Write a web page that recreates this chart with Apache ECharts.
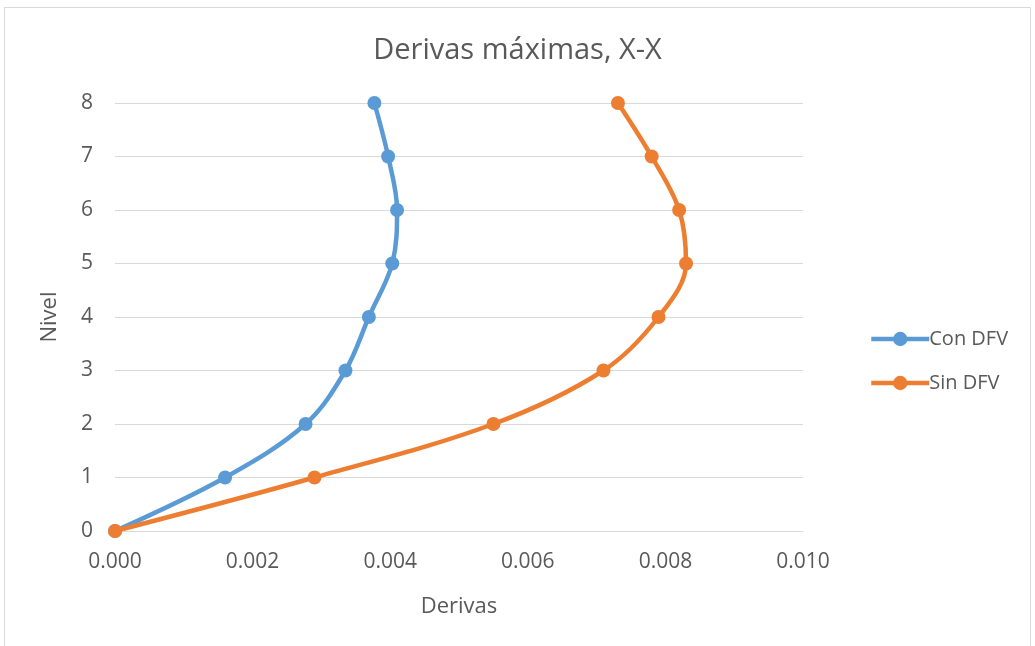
<!DOCTYPE html>
<html>
<head>
<meta charset="utf-8">
<script src="https://cdn.jsdelivr.net/npm/echarts@6/dist/echarts.min.js"></script>
<style>html,body{margin:0;padding:0;background:#fff;}#c{width:1035px;height:646px;}</style>
</head>
<body>
<div id="c"></div>
<script>
const levels = [0, 1, 2, 3, 4, 5, 6, 7, 8];
const conDFV = [0, 0.00160, 0.00277, 0.00335, 0.00369, 0.00403, 0.00410, 0.00397, 0.00377];
const sinDFV = [0, 0.00290, 0.00550, 0.00710, 0.00790, 0.00830, 0.00820, 0.00780, 0.00731];
const seriesNames = ['Con DFV', 'Sin DFV'];
const colors = ['#5B9BD5', '#ED7D31'];

const font = '"Open Sans", "Noto Sans", sans-serif';
const txt = '#595959';

function pairs(xs) { return xs.map((v, i) => [v, levels[i]]); }

const chart = echarts.init(document.getElementById('c'));
chart.setOption({
  animation: false,
  textStyle: { fontFamily: font },
  title: {
    text: 'Derivas máximas, X-X',
    left: 'center', top: 31,
    textStyle: { fontFamily: font, fontSize: 29, fontWeight: 'normal', color: txt }
  },
  graphic: [{
    type: 'rect', silent: true,
    shape: { x: 4.5, y: 7.5, width: 1026, height: 660 },
    style: { fill: 'none', stroke: '#d9d9d9', lineWidth: 1 }
  }],
  legend: {
    orient: 'vertical', left: 864, top: 324,
    itemWidth: 58, itemHeight: 18, itemGap: 24,
    lineStyle: { width: 4.5 },
    textStyle: { fontFamily: font, fontSize: 20, color: txt, padding: [0, 0, 0, -5] },
    data: seriesNames
  },
  grid: { left: 115, right: 232, top: 103, bottom: 115, containLabel: false },
  xAxis: {
    type: 'value', min: 0, max: 0.01, interval: 0.002,
    name: 'Derivas', nameLocation: 'middle', nameGap: 65,
    nameTextStyle: { fontFamily: font, fontSize: 22, color: txt },
    axisLine: { show: true, lineStyle: { color: '#d9d9d9', width: 1 } },
    axisTick: { show: false },
    splitLine: { show: false },
    axisLabel: { fontFamily: font, fontSize: 21, color: txt, margin: 21, formatter: v => v.toFixed(3) }
  },
  yAxis: {
    type: 'value', min: 0, max: 8, interval: 1,
    name: 'Nivel', nameLocation: 'middle', nameGap: 54, nameRotate: 90,
    nameTextStyle: { fontFamily: font, fontSize: 22, color: txt },
    axisLine: { show: false },
    axisTick: { show: false },
    splitLine: { lineStyle: { color: '#d9d9d9', width: 1 } },
    axisLabel: { fontFamily: font, fontSize: 21, color: txt, margin: 22 }
  },
  series: [
    {
      name: seriesNames[0], type: 'line', data: pairs(conDFV),
      smooth: 0.35, smoothMonotone: null,
      symbol: 'circle', symbolSize: 14,
      lineStyle: { color: colors[0], width: 4.5 },
      itemStyle: { color: colors[0] }
    },
    {
      name: seriesNames[1], type: 'line', data: pairs(sinDFV),
      smooth: 0.35, smoothMonotone: null,
      symbol: 'circle', symbolSize: 14,
      lineStyle: { color: colors[1], width: 4.5 },
      itemStyle: { color: colors[1] }
    }
  ]
});
</script>
</body>
</html>
